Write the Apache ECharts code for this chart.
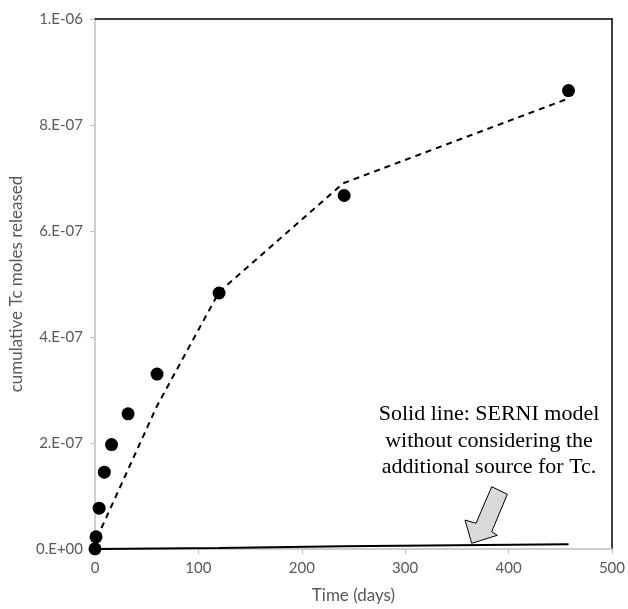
<!DOCTYPE html>
<html>
<head>
<meta charset="utf-8">
<script src="https://cdn.jsdelivr.net/npm/echarts@6/dist/echarts.min.js"></script>
<style>
  html, body { margin: 0; padding: 0; background: #fff; }
  #chart { width: 628px; height: 609px; }
</style>
</head>
<body>
<div id="chart"></div>
<script>
// measured points (days, moles)
const obsDays = [0, 1, 4, 9, 16, 32, 60, 120, 241, 458]
const obsMoles = [0.4e-9, 2.3e-8, 7.7e-8, 1.45e-7, 1.97e-7, 2.55e-7, 3.3e-7, 4.83e-7, 6.67e-7, 8.65e-7]

// dashed model curve
const modelDays = [0, 4, 60, 120, 240, 458]
const modelMoles = [0, 3.0e-8, 2.7e-7, 4.85e-7, 6.9e-7, 8.5e-7]

// solid line: SERNI model without extra source
const serniDays = [0, 120, 240, 458]
const serniMoles = [0, 2e-9, 5e-9, 9e-9]

const yTicks = [0, 2e-7, 4e-7, 6e-7, 8e-7, 1e-6]

const pairs = (xs, ys) => xs.map((x, i) => [x, ys[i]])

const sciLabel = (v) => {
  if (Math.abs(v) < 1e-12) return '0.E+00'
  let exp = Math.floor(Math.log10(v) + 1e-9)
  let m = Math.round(v / Math.pow(10, exp))
  let e = Math.abs(exp)
  return m + '.E' + (exp < 0 ? '-' : '+') + (e < 10 ? '0' + e : e)
}

const chart = echarts.init(document.getElementById('chart'))
const gray = '#bfbfbf'
const txt = '#595959'

let option = {
  animation: false,
  grid: { left: 95, right: 14, top: 19, bottom: 57 },
  xAxis: [
    {
      type: 'value', min: 0, max: 500, interval: 100,
      name: 'Time (days)', nameLocation: 'middle', nameGap: 38,
      nameTextStyle: { color: txt, fontFamily: 'Lato', fontSize: 17 },
      axisLine: { show: true, lineStyle: { color: gray, width: 1.5 } },
      axisTick: { show: true, inside: false, length: 5, lineStyle: { color: gray } },
      axisLabel: { color: txt, fontFamily: 'Lato', fontSize: 15, margin: 12 },
      splitLine: { show: false }
    },
    {
      type: 'value', min: 0, max: 500, position: 'top',
      axisLine: { show: true, onZero: false, lineStyle: { color: '#000', width: 1.5 } },
      axisTick: { show: false }, axisLabel: { show: false }, splitLine: { show: false }
    }
  ],
  yAxis: [
    {
      type: 'value', min: 0, max: 1e-6, interval: 2e-7,
      name: 'cumulative Tc moles released', nameLocation: 'middle', nameGap: 70,
      nameTextStyle: { color: txt, fontFamily: 'Lato', fontSize: 17 },
      axisLine: { show: true, lineStyle: { color: gray, width: 1.5 } },
      axisTick: { show: true, inside: false, length: 5, lineStyle: { color: gray } },
      axisLabel: { color: txt, fontFamily: 'Lato', fontSize: 15, margin: 12, formatter: sciLabel },
      splitLine: { show: false }
    },
    {
      type: 'value', min: 0, max: 1e-6, position: 'right',
      axisLine: { show: true, onZero: false, lineStyle: { color: '#000', width: 1.5 } },
      axisTick: { show: false }, axisLabel: { show: false }, splitLine: { show: false }
    }
  ],
  series: [
    {
      name: 'SERNI', type: 'line', data: pairs(serniDays, serniMoles),
      showSymbol: false,
      lineStyle: { color: '#000', width: 2 }, z: 3
    },
    {
      name: 'model', type: 'line', data: pairs(modelDays, modelMoles),
      showSymbol: false,
      lineStyle: { color: '#000', width: 2, type: [6, 5] }, z: 3
    },
    {
      name: 'measured', type: 'scatter', data: pairs(obsDays, obsMoles),
      symbol: 'circle', symbolSize: 13,
      itemStyle: { color: '#000', opacity: 1 }, z: 4
    }
  ],
  graphic: [
    {
      type: 'text', x: 489, y: 401, z: 10,
      style: {
        text: 'Solid line: SERNI model\nwithout considering the\nadditional source for Tc.',
        fill: '#000', font: '22px "Liberation Serif"', lineHeight: 26.5, align: 'center'
      }
    },
    {
      type: 'polygon', z: 10,
      shape: {
        points: [[491.7, 486.7], [507.3, 494.3], [491.7, 531.7], [497.3, 535.3],
                 [471.7, 543.3], [465, 520], [476, 523.3]]
      },
      style: { fill: '#d9d9d9', stroke: '#000', lineWidth: 1 }
    }
  ]
}

chart.setOption(option)
</script>
</body>
</html>
